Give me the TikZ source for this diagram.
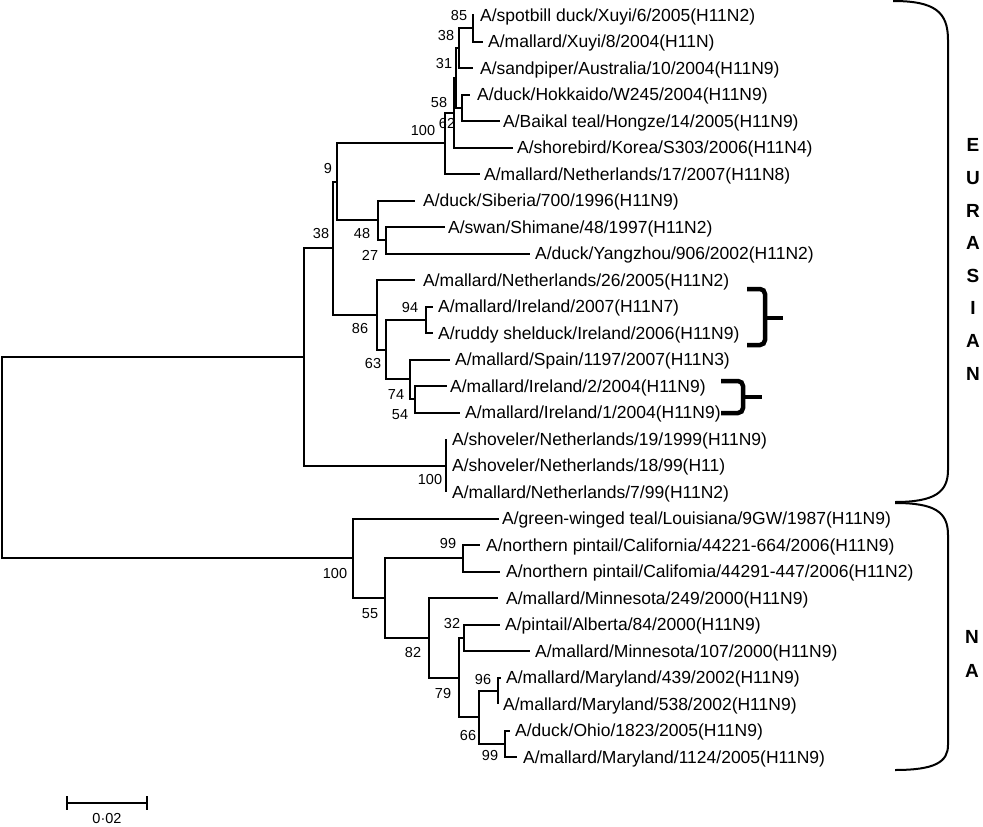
\documentclass[tikz,border=0pt]{standalone}
\usepackage{fontspec}
\setmainfont{Liberation Sans}
\begin{document}
\begin{tikzpicture}[x=1pt,y=-1pt,
  edge/.style={line width=2pt},
  leaf/.style={anchor=west, inner sep=0pt, font=\fontsize{17.5}{20}\selectfont, text height=12.5pt, text depth=0pt},
  boot/.style={inner sep=0pt, font=\fontsize{14.5}{16}\selectfont, text height=10.4pt, text depth=0pt},
  region/.style={inner sep=0pt, font=\bfseries\fontsize{19}{22}\selectfont, text height=13.6pt, text depth=0pt},
  bigbrace/.style={line width=2pt},
  smallbrace/.style={line width=4.5pt, rounded corners=5pt}]
\useasboundingbox (0,0) rectangle (983,827);
\fill[white] (0,0) rectangle (983,827);
% internal nodes
\coordinate (root) at (2,457.6);
\coordinate (eu) at (304,356.9);
\coordinate (na) at (353,558.25);
\coordinate (n38m) at (333,248.3);
\coordinate (shov) at (446,465.5);
\coordinate (n9) at (337,181.9);
\coordinate (n86) at (377,314.8);
\coordinate (n100t) at (445,143.4);
\coordinate (n48) at (378,220.4);
\coordinate (n62) at (454,112.7);
\coordinate (n31) at (456,77.9);
\coordinate (n38t) at (459,48.1);
\coordinate (n85) at (473,28.25);
\coordinate (n58) at (462,107.75);
\coordinate (n27) at (386,240.25);
\coordinate (n63) at (386,349.6);
\coordinate (n94) at (426,319.75);
\coordinate (n74) at (410,379.4);
\coordinate (n54) at (415,399.25);
\coordinate (n55) at (385,598);
\coordinate (n99a) at (463,558.25);
\coordinate (n82) at (429,637.75);
\coordinate (n79) at (459,677.5);
\coordinate (n32) at (464,637.75);
\coordinate (n66) at (479,717.25);
\coordinate (n96) at (498,690.75);
\coordinate (n99b) at (505,743.75);
% leaf branch ends
\coordinate (e1) at (474,15);
\coordinate (e2) at (483,41.5);
\coordinate (e3) at (473,68);
\coordinate (e4) at (470,94.5);
\coordinate (e5) at (500,121);
\coordinate (e6) at (513,147.5);
\coordinate (e7) at (480,174);
\coordinate (e8) at (415,200.5);
\coordinate (e9) at (445,227);
\coordinate (e10) at (530,253.5);
\coordinate (e11) at (415,280);
\coordinate (e12) at (433,306.5);
\coordinate (e13) at (433,333);
\coordinate (e14) at (450,359.5);
\coordinate (e15) at (447,386);
\coordinate (e16) at (460,412.5);
\coordinate (e17) at (446,439);
\coordinate (e18) at (446,465.5);
\coordinate (e19) at (446,492);
\coordinate (e20) at (499,518.5);
\coordinate (e21) at (480,545);
\coordinate (e22) at (500,571.5);
\coordinate (e23) at (498,598);
\coordinate (e24) at (500,624.5);
\coordinate (e25) at (530,651);
\coordinate (e26) at (501,677.5);
\coordinate (e27) at (498,704);
\coordinate (e28) at (510,730.5);
\coordinate (e29) at (517,757);
% branches
\foreach \a/\b in {root/eu,root/na,eu/n38m,eu/shov,n38m/n9,n38m/n86,n9/n100t,n9/n48,
  n100t/n62,n100t/e7,n62/n31,n62/e6,n31/n38t,n31/n58,n38t/n85,n38t/e3,n85/e1,n85/e2,
  n58/e4,n58/e5,n48/e8,n48/n27,n27/e9,n27/e10,n86/e11,n86/n63,n63/n94,n63/n74,
  n94/e12,n94/e13,n74/e14,n74/n54,n54/e15,n54/e16,shov/e17,shov/e18,shov/e19,
  na/e20,na/n55,n55/n99a,n55/n82,n99a/e21,n99a/e22,n82/e23,n82/n79,n79/n32,n79/n66,
  n32/e24,n32/e25,n66/n96,n66/n99b,n96/e26,n96/e27,n99b/e28,n99b/e29}
  \draw[edge] (\a) |- (\b);
% leaf labels
\node[leaf] (t1) at (480,15) {A/spotbill duck/Xuyi/6/2005(H11N2)};
\node[leaf] (t2) at (488,41.5) {A/mallard/Xuyi/8/2004(H11N)};
\node[leaf] (t3) at (480,68) {A/sandpiper/Australia/10/2004(H11N9)};
\node[leaf] (t4) at (477,94.5) {A/duck/Hokkaido/W245/2004(H11N9)};
\node[leaf] (t5) at (503,121) {A/Baikal teal/Hongze/14/2005(H11N9)};
\node[leaf] (t6) at (517,147.5) {A/shorebird/Korea/S303/2006(H11N4)};
\node[leaf] (t7) at (484,174) {A/mallard/Netherlands/17/2007(H11N8)};
\node[leaf] (t8) at (423,200.5) {A/duck/Siberia/700/1996(H11N9)};
\node[leaf] (t9) at (448,227) {A/swan/Shimane/48/1997(H11N2)};
\node[leaf] (t10) at (535,253.5) {A/duck/Yangzhou/906/2002(H11N2)};
\node[leaf] (t11) at (423,280) {A/mallard/Netherlands/26/2005(H11N2)};
\node[leaf] (t12) at (438,306.5) {A/mallard/Ireland/2007(H11N7)};
\node[leaf] (t13) at (438,333) {A/ruddy shelduck/Ireland/2006(H11N9)};
\node[leaf] (t14) at (455,359.5) {A/mallard/Spain/1197/2007(H11N3)};
\node[leaf] (t15) at (450,386) {A/mallard/Ireland/2/2004(H11N9)};
\node[leaf] (t16) at (465,412.5) {A/mallard/Ireland/1/2004(H11N9)};
\node[leaf] (t17) at (452,439) {A/shoveler/Netherlands/19/1999(H11N9)};
\node[leaf] (t18) at (452,465.5) {A/shoveler/Netherlands/18/99(H11)};
\node[leaf] (t19) at (452,492) {A/mallard/Netherlands/7/99(H11N2)};
\node[leaf] (t20) at (502,518.5) {A/green-winged teal/Louisiana/9GW/1987(H11N9)};
\node[leaf] (t21) at (486,545) {A/northern pintail/California/44221-664/2006(H11N9)};
\node[leaf] (t22) at (506,571.5) {A/northern pintail/Califomia/44291-447/2006(H11N2)};
\node[leaf] (t23) at (506,598) {A/mallard/Minnesota/249/2000(H11N9)};
\node[leaf] (t24) at (505,624.5) {A/pintail/Alberta/84/2000(H11N9)};
\node[leaf] (t25) at (535,651) {A/mallard/Minnesota/107/2000(H11N9)};
\node[leaf] (t26) at (506,677.5) {A/mallard/Maryland/439/2002(H11N9)};
\node[leaf] (t27) at (503,704) {A/mallard/Maryland/538/2002(H11N9)};
\node[leaf] (t28) at (515,730.5) {A/duck/Ohio/1823/2005(H11N9)};
\node[leaf] (t29) at (523,757) {A/mallard/Maryland/1124/2005(H11N9)};
% bootstrap values
\node[boot] (b85) at (459,15) {85};
\node[boot] (b38a) at (446,35) {38};
\node[boot] (b31) at (444,63) {31};
\node[boot] (b58) at (439,102) {58};
\node[boot] (b62) at (447,123) {62};
\node[boot] (b100a) at (423,130) {100};
\node[boot] (b9) at (328,168) {9};
\node[boot] (b38b) at (321,233) {38};
\node[boot] (b48) at (362,233) {48};
\node[boot] (b27) at (370,255) {27};
\node[boot] (b86) at (360,328) {86};
\node[boot] (b94) at (410,307) {94};
\node[boot] (b63) at (373,363) {63};
\node[boot] (b74) at (396,394) {74};
\node[boot] (b54) at (400,414) {54};
\node[boot] (b100b) at (430,479) {100};
\node[boot] (b100c) at (335,573) {100};
\node[boot] (b99a) at (448,543) {99};
\node[boot] (b55) at (370,613) {55};
\node[boot] (b32) at (452,623) {32};
\node[boot] (b82) at (413,652) {82};
\node[boot] (b96) at (483,679) {96};
\node[boot] (b79) at (443,693) {79};
\node[boot] (b66) at (468,735) {66};
\node[boot] (b99b) at (490,755) {99};
% big braces
\draw[bigbrace] (893,1) .. controls (935,1) and (948,12) .. (948,40) -- (948,470)
  .. controls (948,492) and (935,502) .. (895,502);
\draw[bigbrace] (895,503) .. controls (935,503) and (948,512) .. (948,535) -- (948,745)
  .. controls (948,762) and (935,770) .. (895,770);
% small braces
\coordinate (s1) at (783,318);
\coordinate (s2) at (762,397);
\draw[smallbrace] (747,289) -| (765,318) |- (747,345);
\draw[line width=4.5pt] (765,318) -- (s1);
\draw[smallbrace] (721,381) -| (743,397) |- (721,413);
\draw[line width=4.5pt] (743,397) -- (s2);
% region letters
\node[region] (lE) at (973,145) {E};
\node[region] (lU) at (973,177.6) {U};
\node[region] (lR) at (973,210.2) {R};
\node[region] (lA1) at (973,242.8) {A};
\node[region] (lS) at (973,275.4) {S};
\node[region] (lI) at (973,308) {I};
\node[region] (lA2) at (973,340.6) {A};
\node[region] (lN) at (973,373.2) {N};
\node[region] (lN2) at (972,637) {N};
\node[region] (lA3) at (972,671) {A};
% scale bar
\coordinate (sb1) at (67,803);
\coordinate (sb2) at (147,803);
\draw[line width=2pt] (sb1) -- (sb2);
\draw[line width=2pt] (67,796) -- (67,810);
\draw[line width=2pt] (147,796) -- (147,810);
\node[boot] (sbl) at (107,818) {0·02};
\end{tikzpicture}
\end{document}
